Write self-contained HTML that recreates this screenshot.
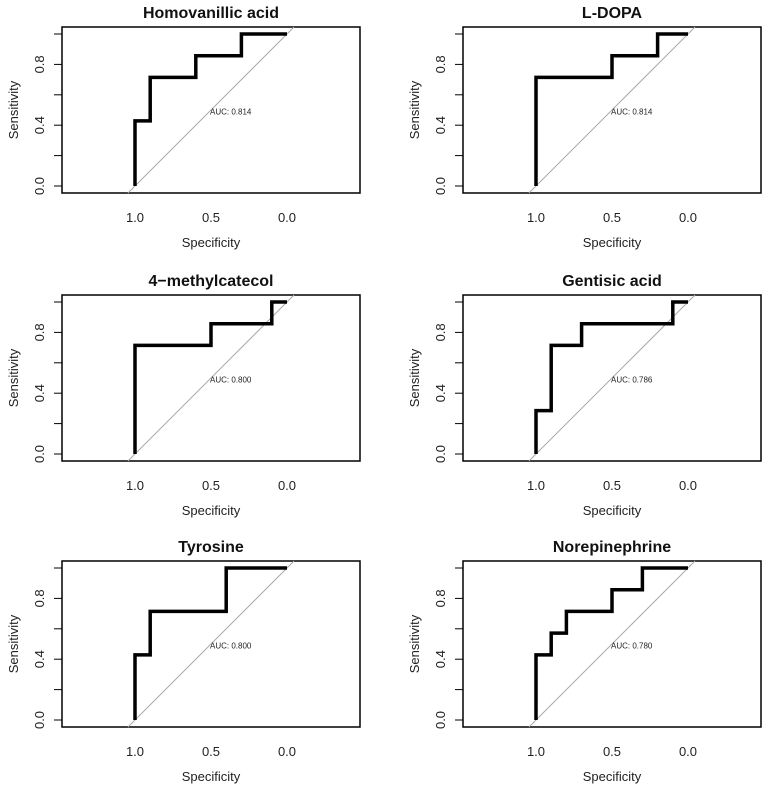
<!DOCTYPE html>
<html><head><meta charset="utf-8"><style>
body{margin:0;background:#fff}
svg{display:block;font-family:"Liberation Sans",Arial,sans-serif}
</style></head><body>
<svg id="chart" width="768" height="786" viewBox="0 0 768 786" xmlns="http://www.w3.org/2000/svg"></svg>
<script>
const titles = ["Homovanillic acid","L-DOPA","4\u2212methylcatecol","Gentisic acid","Tyrosine","Norepinephrine"];
const aucLabels = ["AUC: 0.814","AUC: 0.814","AUC: 0.800","AUC: 0.786","AUC: 0.800","AUC: 0.780"];
const specValues = [
  [1,1,0.9,0.9,0.6,0.6,0.3,0.3,0],
  [1,1,0.5,0.5,0.2,0.2,0],
  [1,1,0.5,0.5,0.1,0.1,0],
  [1,1,0.9,0.9,0.7,0.7,0.1,0.1,0],
  [1,1,0.9,0.9,0.4,0.4,0],
  [1,1,0.9,0.9,0.8,0.8,0.5,0.5,0.3,0.3,0]
];
const sensValues = [
  [0,3/7,3/7,5/7,5/7,6/7,6/7,1,1],
  [0,5/7,5/7,6/7,6/7,1,1],
  [0,5/7,5/7,6/7,6/7,1,1],
  [0,2/7,2/7,5/7,5/7,6/7,6/7,1,1],
  [0,3/7,3/7,5/7,5/7,1,1],
  [0,3/7,3/7,4/7,4/7,5/7,5/7,6/7,6/7,1,1]
];
const xTicks = [1.0,0.5,0.0];
const xTickLabels = ["1.0","0.5","0.0"];
const yTicks = [0,0.2,0.4,0.6,0.8,1.0];
const yTickLabels = ["0.0","","0.4","","0.8",""];

const NS="http://www.w3.org/2000/svg";
const svg=document.getElementById('chart');
const origins=[[135,186],[536,186],[135,454],[536,454],[135,720],[536,720]];
const S=152;
function mk(tag,attrs,parent,text){const e=document.createElementNS(NS,tag);for(const k in attrs)e.setAttribute(k,attrs[k]);if(text!==undefined)e.textContent=text;parent.appendChild(e);return e;}
titles.forEach((t,i)=>{
  const [ox,oy]=origins[i];
  const sx=v=>ox+(1-v)*S, sy=v=>oy-v*S;
  const g=mk('g',{},svg);
  
  
  const tt=mk('text',{x:ox+76,y:oy-168,'text-anchor':'middle','font-size':16,'font-weight':'bold',fill:'#111'},g,t);
  
  
  const box=mk('rect',{x:ox-73,y:oy-159,width:298,height:166,fill:'none',stroke:'#000','stroke-width':1.5},g);
  
  
  const dg=mk('line',{x1:sx(1.046),y1:sy(-0.046),x2:sx(-0.046),y2:sy(1.046),stroke:'#aaa','stroke-width':1},g);
  
  
  const pts=specValues[i].map((s,j)=>sx(s)+','+sy(sensValues[i][j])).join(' ');
  const pl=mk('polyline',{points:pts,fill:'none',stroke:'#000','stroke-width':3.5,'stroke-linejoin':'miter'},g);
  
  
  const at=mk('text',{x:sx(0.5)-1,y:sy(0.47),'font-size':8,fill:'#222'},g,aucLabels[i]);
  
  
  xTicks.forEach((v,k)=>{
    const l=mk('text',{x:sx(v),y:oy+36,'text-anchor':'middle','font-size':13,fill:'#222'},g,xTickLabels[k]);
    
    
  });
  yTicks.forEach((v,k)=>{
    mk('line',{x1:ox-73,y1:sy(v),x2:ox-81,y2:sy(v),stroke:'#000'},g);
    if(yTickLabels[k]){
      const l=mk('text',{x:0,y:0,transform:`translate(${ox-91},${sy(v)}) rotate(-90)`,'text-anchor':'middle','font-size':13,fill:'#222'},g,yTickLabels[k]);
      
      
    }
  });
  const xl=mk('text',{x:sx(0.5),y:oy+61,'text-anchor':'middle','font-size':13,fill:'#222'},g,'Specificity');
  
  
  const yl=mk('text',{x:0,y:0,transform:`translate(${ox-117},${sy(0.5)}) rotate(-90)`,'text-anchor':'middle','font-size':13,fill:'#222'},g,'Sensitivity');
  
  
});
</script>
</body></html>
